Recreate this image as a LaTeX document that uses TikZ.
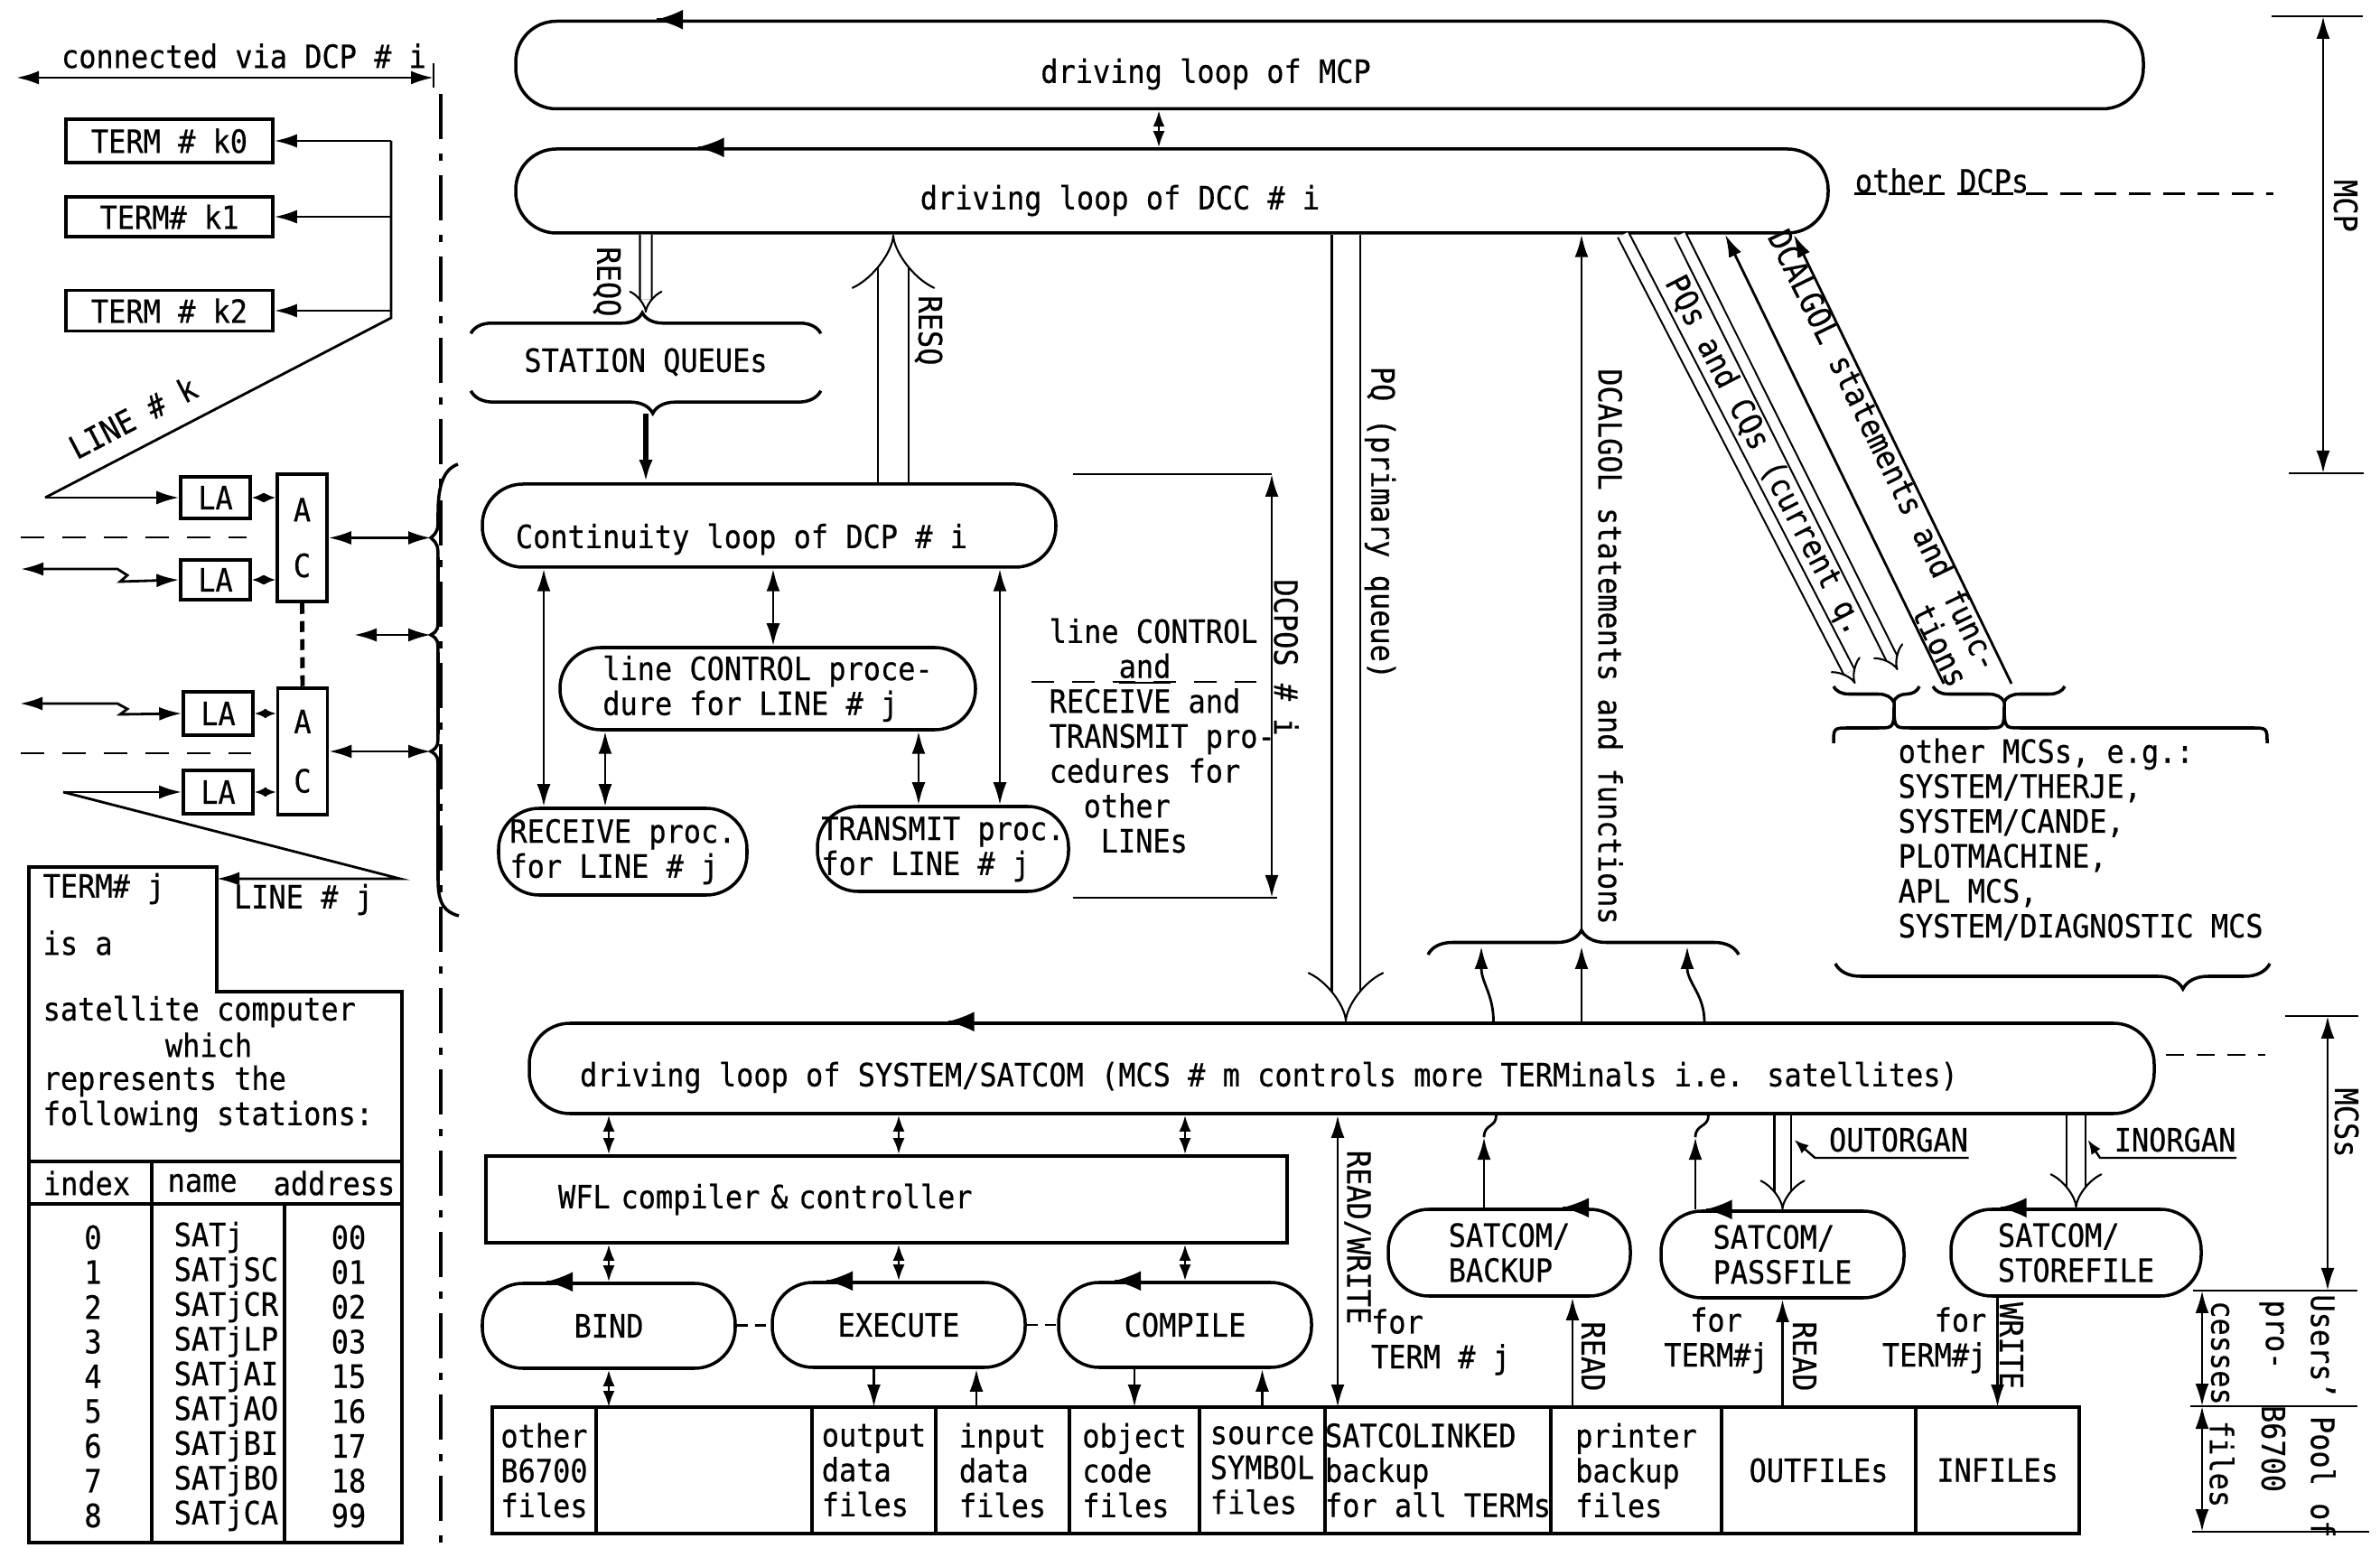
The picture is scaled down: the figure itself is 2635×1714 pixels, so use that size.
\documentclass[tikz,border=0pt]{standalone}
\usepackage{fontspec}
\setmainfont[FakeStretch=0.9, FakeBold=0.5]{DejaVu Sans Mono}
\setmonofont[FakeStretch=0.9, FakeBold=0.5]{DejaVu Sans Mono}
\usetikzlibrary{positioning, arrows.meta, calc, decorations.pathreplacing}
\tikzset{
  every node/.style={font=\fontsize{10.1}{11}\selectfont, inner sep=0pt},
  loopbox/.style={draw, line width=1pt, rounded corners=4.5mm},
  procbox/.style={loopbox, align=center, minimum width=28mm, minimum height=9.4mm},
  plainbox/.style={draw, line width=1pt, align=center},
  cell/.style={draw, line width=1pt, outer sep=0pt, minimum height=14mm, align=left},
  arr/.style={-{Latex[length=2.5mm, width=1.5mm]}, line width=0.8pt},
  darr/.style={{Latex[length=2.5mm, width=1.5mm]}-{Latex[length=2.5mm, width=1.5mm]}, line width=0.8pt},
  mdarr/.style={{Latex[length=1.8mm, width=1.3mm]}-{Latex[length=1.8mm, width=1.3mm]}, line width=0.8pt},
  sdarr/.style={{Latex[length=1.3mm, width=1.1mm]}-{Latex[length=1.3mm, width=1.1mm]}, line width=0.8pt},
  ptr/.style={-{Latex[length=1.6mm, width=1.2mm]}, line width=0.7pt},
  looptip/.style={-{Latex[length=3mm, width=2.2mm]}, line width=0.8pt},
  qarr/.style={double, line width=0.6pt, double distance=#1, -{Implies}},
  qarr/.default=1.2mm,
  vlbl/.style={rotate=-90},
  dimln/.style={line width=0.8pt},
  bracepath/.style={line width=1pt}
}

\begin{document}
\begin{tikzpicture}[x=0.1mm, y=-0.1mm]
\path[use as bounding box, fill=white] (0,0) rectangle (2635,1714);

\coordinate (cva) at (18,86);
\coordinate (cvb) at (480,86);
\draw[darr] (cva) -- (cvb);
\draw[dimln] (480,70) -- (480,97);
\node (cvtxt) at (270,62) {connected via DCP \# i};
\draw[line width=1pt, dash pattern=on 5mm off 1.6mm on 0.8mm off 1.6mm] (488,104) -- (488,1714);

\node[plainbox, minimum width=22.9mm, minimum height=4.8mm] (k0) at (187.5,156) {TERM \# k0};
\node[plainbox, minimum width=22.9mm, minimum height=4.4mm] (k1) at (187.5,240) {TERM\# k1};
\node[plainbox, minimum width=22.9mm, minimum height=4.5mm] (k2) at (187.5,344) {TERM \# k2};
\node[plainbox, minimum width=7.7mm, minimum height=4.6mm] (la1) at (238.5,551) {LA};
\node[plainbox, minimum width=7.7mm, minimum height=4.4mm] (la2) at (238.5,642) {LA};
\node[plainbox, minimum width=7.7mm, minimum height=4.8mm] (la3) at (241.5,790) {LA};
\node[plainbox, minimum width=7.7mm, minimum height=4.8mm] (la4) at (241.5,877) {LA};
\node[plainbox, minimum width=5.5mm, minimum height=14.1mm] (ac1) at (334.5,595.5) {A\\[2.3mm]C};
\node[plainbox, minimum width=5.5mm, minimum height=14mm] (ac2) at (335,832) {A\\[2.7mm]C};

\coordinate (busk) at (433,352);
\coordinate (lk) at (50,551);
\draw[dimln] (k0.east -| busk) -- (busk) -- (lk);
\foreach \k in {k0,k1,k2} \draw[arr] (\k.east -| busk) -- (\k.east);
\draw[arr] (lk) -- (la1.west);
\node[rotate=27.5] (lklbl) at (147,462) {LINE \# k};

\foreach \l/\a in {la1/ac1, la2/ac1, la3/ac2, la4/ac2} \draw[sdarr] (\l.east) -- (\l.east -| \a.west);
\draw[line width=1.4pt, dash pattern=on 1.2mm off 0.8mm] (ac1.south) -- (ac2.north);
\draw[dimln, dash pattern=on 2.6mm off 2mm] (23,595) -- (273,595);
\draw[dimln, dash pattern=on 2.6mm off 2mm] (23,834) -- (278,834);
\coordinate (l2) at (23,630);
\coordinate (l3) at (22,779);
\draw[darr] (l2) -- ++(107,0) -- ++(11,7) -- ++(-8,7) -- (la2.west);
\draw[darr] (l3) -- ++(108,0) -- ++(11,6) -- ++(-8,6) -- (la3.west);

\coordinate (lj) at (70,877);
\coordinate (ljr) at (443,973);
\coordinate (tj) at (240,973);
\draw[arr] (lj) -- (la4.west);
\draw[arr] (lj) -- (ljr) -- (tj);
\node (ljlbl) at (336,996) {LINE \# j};

\coordinate (br1) at (477,595.5);
\coordinate (br2) at (477,703);
\coordinate (br3) at (477,832);
\coordinate (bm) at (392,703);
\draw[bracepath] (507,514) .. controls (490,520) and (485,540) .. (485,568) .. controls (485,588) .. (br1) .. controls (485,603) .. (485,623) -- (485,678) .. controls (485,698) .. (br2) .. controls (485,708) .. (485,728) -- (485,807) .. controls (485,827) .. (br3) .. controls (485,837) .. (485,857) -- (485,975) .. controls (485,1000) and (492,1010) .. (508,1014);
\draw[darr] (ac1.east) -- (br1);
\draw[darr] (bm) -- (br2);
\draw[darr] (ac2.east) -- (br3);

\draw[line width=1pt] (32,960) -- (240,960) -- (240,1098) -- (445,1098) -- (445,1708) -- (32,1708) -- cycle;
\draw[line width=1pt] (32,1286) -- (445,1286) (32,1333) -- (445,1333) (168,1286) -- (168,1708) (315,1333) -- (315,1708);
\node[anchor=west] (tjtxt) at (47,984) {TERM\# j};
\node[anchor=west] (isa) at (47,1044) {is a};
\node[anchor=west] (sat1) at (47,1120) {satellite computer};
\node (sat2) at (231,1157) {which};
\node[anchor=west] (sat3) at (47,1197) {represents the};
\node[anchor=west] (sat4) at (47,1236) {following stations:};
\node (hidx) at (96,1310) {index};
\node[anchor=west] (hnm) at (185,1310) {name};
\node (had) at (370,1310) {address};
\foreach \idx/\nm/\ad [count=\r from 0] in {0/SATj/00, 1/SATjSC/01, 2/SATjCR/02, 3/SATjLP/03, 4/SATjAI/15, 5/SATjAO/16, 6/SATjBI/17, 7/SATjBO/18, 8/SATjCA/99}
{
  \node (ix\r) at (103,1370+38.5*\r) {\idx};
  \node[anchor=west] (nm\r) at (192,1370+38.5*\r) {\nm};
  \node (ad\r) at (386,1370+38.5*\r) {\ad};
}

\node[loopbox, minimum width=180.2mm, minimum height=9.7mm] (mcp) at (1472,72) {};
\node (mcptxt) at (1335,82) {driving loop of MCP};
\node[loopbox, minimum width=145.3mm, minimum height=9.3mm] (dcc) at (1297.5,211.5) {};
\node (dcctxt) at (1240,222) {driving loop of DCC \# i};
\node[minimum width=38.6mm, minimum height=6.2mm] (sq) at (715,401) {STATION QUEUEs};
\node[loopbox, minimum width=63.5mm, minimum height=9.2mm] (cont) at (851.5,582) {};
\node (conttxt) at (821,597) {Continuity loop of DCP \# i};
\node[loopbox, minimum width=46mm, minimum height=9.1mm, align=left] (lctl) at (850,762.5) {line CONTROL proce-\\dure for LINE \# j};
\node[procbox, minimum width=27.5mm, minimum height=9.6mm, align=left] (recv) at (689.5,943) {RECEIVE proc.\\for LINE \# j};
\node[procbox, minimum width=27.8mm, minimum height=9.4mm, align=left] (xmit) at (1044,940) {TRANSMIT proc.\\for LINE \# j};
\node[loopbox, minimum width=179.9mm, minimum height=10mm] (satcom) at (1485.5,1183) {};
\node (sattxt) at (1405,1193) {driving loop of SYSTEM/SATCOM (MCS \# m controls more TERMinals i.e. satellites)};
\node[draw, line width=1pt, minimum height=9.6mm, text width=72.7mm, inner xsep=8mm, align=left] (wfl) at (981.5,1328) {WFL compiler \& controller};
\node[procbox] (bind) at (674,1468) {BIND};
\node[procbox] (exec) at (995,1467) {EXECUTE};
\node[procbox] (comp) at (1312,1467) {COMPILE};
\node[procbox, minimum width=26.8mm, minimum height=9.6mm, align=left] (backup) at (1671,1387) {SATCOM/\\BACKUP};
\node[procbox, minimum width=26.9mm, minimum height=9.6mm, align=left] (passfile) at (1973.5,1389) {SATCOM/\\PASSFILE};
\node[procbox, minimum width=27.7mm, minimum height=9.6mm, align=left] (storefile) at (2298.5,1387) {SATCOM/\\STOREFILE};

\node[cell, minimum width=11.5mm, anchor=north west] (f1) at (545,1558) {other\\B6700\\files};
\node[cell, minimum width=23.9mm, right=0pt of f1] (f2) {};
\node[cell, minimum width=13.7mm, right=0pt of f2] (f3) {output\\data\\files};
\node[cell, minimum width=14.8mm, right=0pt of f3] (f4) {input\\data\\files};
\node[cell, minimum width=14.4mm, right=0pt of f4] (f5) {object\\code\\files};
\node[cell, minimum width=13.9mm, right=0pt of f5] (f6) {source\\SYMBOL\\files};
\node[cell, minimum width=24.8mm, right=0pt of f6] (f7) {SATCOLINKED\\backup\\for all TERMs};
\node[cell, minimum width=18.9mm, right=0pt of f7] (f8) {printer\\backup\\files};
\node[cell, minimum width=21.5mm, right=0pt of f8] (f9) {OUTFILEs};
\node[cell, minimum width=18.1mm, right=0pt of f9] (f10) {INFILEs};

\draw[looptip] ([xshift=-74.5mm]mcp.north) -- ++(-1,0);
\draw[looptip] ([xshift=-52.5mm]dcc.north) -- ++(-1,0);
\draw[looptip] ([xshift=-43.6mm]satcom.north) -- ++(-1,0);
\draw[looptip] ([xshift=-6.9mm]bind.north) -- ++(-1,0);
\draw[looptip] ([xshift=-8mm]exec.north) -- ++(-1,0);
\draw[looptip] ([xshift=-7.8mm]comp.north) -- ++(-1,0);
\draw[looptip] ([xshift=5.9mm]backup.north) -- ++(-1,0);
\draw[looptip] ([xshift=-8.5mm]passfile.north) -- ++(-1,0);
\draw[looptip] ([xshift=-8.4mm]storefile.north) -- ++(-1,0);

\draw[mdarr] ([xshift=-18.9mm]mcp.south) -- ([xshift=-18.9mm]mcp.south |- dcc.north);
\node (odcp) at (2150,200) {other DCPs};
\draw[dimln, dash pattern=on 2.4mm off 1.4mm] (odcp.south west) -- ++(464,0);

\coordinate (mcpt) at (2572,18);
\coordinate (mcpb) at (2572,524);
\draw[dimln] (2515,18) -- (2616,18);
\draw[dimln] (2534,524) -- (2617,524);
\draw[darr] (mcpt) -- (mcpb);
\node[vlbl] (mcplbl) at (2597,228) {MCP};

\draw[bracepath, decorate, decoration={brace, amplitude=2.3mm, aspect=0.49}] (sq.north west) -- (sq.north east);
\draw[bracepath, decorate, decoration={brace, mirror, amplitude=2.5mm, aspect=0.52}] (sq.south west) -- (sq.south east);
\draw[qarr=1.1mm] ([xshift=-58.25mm]dcc.south) -- ([yshift=2.3mm]sq.north);
\node[vlbl] (reqq) at (672,312) {REQQ};
\draw[arr, line width=1.6pt] ([yshift=-2.5mm]sq.south) -- (sq.south |- cont.north);
\draw[qarr=3.2mm] ([xshift=13.75mm]cont.north) -- ([xshift=13.75mm]cont.north |- dcc.south);
\node[vlbl] (resq) at (1028,366) {RESQ};

\draw[darr] ([xshift=-8.75mm]recv.north) -- ([xshift=-8.75mm]recv.north |- cont.south);
\draw[darr] ([xshift=0.6mm]lctl.north) -- ([xshift=0.6mm]lctl.north |- cont.south);
\draw[darr] ([xshift=-1.95mm]recv.north) -- ([xshift=-1.95mm]recv.north |- lctl.south);
\draw[darr] ([xshift=-2.7mm]xmit.north) -- ([xshift=-2.7mm]xmit.north |- lctl.south);
\draw[darr] ([xshift=6.3mm]xmit.north) -- ([xshift=6.3mm]xmit.north |- cont.south);

\node[anchor=north west, align=left] (otherln) at (1161,684) {line CONTROL\\\hspace*{7.7mm}\underline{and}\\RECEIVE and\\TRANSMIT pro-\\cedures for\\\hspace*{3.8mm}other\\\hspace*{5.7mm}LINEs};
\draw[dimln, dash pattern=on 2.5mm off 2mm] (1142,755) -- (1391,755);
\coordinate (dpt) at (1408,525);
\coordinate (dpb) at (1408,994);
\draw[dimln] (1188,525) -- (dpt);
\draw[dimln] (1188,994) -- (1414,994);
\draw[darr] (dpt) -- (dpb);
\node[vlbl] (dcpos) at (1424,728) {DCPOS \# i};

\draw[qarr=2.9mm] ([xshift=19.25mm]dcc.south) -- ([xshift=19.25mm]dcc.south |- satcom.north);
\node[vlbl] (pqlbl) at (1528,579) {PQ (primary queue)};

\coordinate (dcusp) at (1751,1030);
\draw[bracepath, decorate, decoration={brace, amplitude=2.7mm, aspect=0.494}] (1581,1057) -- (1925,1057);
\draw[arr] (dcusp) -- (dcusp |- dcc.south);
\node[vlbl] (dcalv) at (1783,716) {DCALGOL statements and functions};
\coordinate (dbr1) at (1640,1048);
\coordinate (dbr2) at (1751,1048);
\coordinate (dbr3) at (1868,1048);
\draw[arr] ([xshift=16.8mm]satcom.north) .. controls +(0,-30) and +(0,40) .. (dbr1);
\draw[arr] (dbr2 |- satcom.north) -- (dbr2);
\draw[arr] ([xshift=40.15mm]satcom.north) .. controls +(0,-30) and +(0,40) .. (dbr3);

\coordinate (pqa) at (2054,757);
\coordinate (pqb) at (2101,742);
\coordinate (dca) at (2152,757);
\coordinate (dcb) at (2227,757);
\draw[qarr=1.1mm] ([xshift=49.95mm]dcc.south) -- (pqa);
\draw[qarr=1.1mm] ([xshift=56.25mm]dcc.south) -- (pqb);
\draw[arr] (dca) -- ([xshift=61.25mm]dcc.south);
\draw[arr] (dcb) -- ([xshift=68.85mm]dcc.south);
\node[rotate=-62.7] (pqdiag) at (1953,505) {PQs and CQs (current q.};
\node[rotate=-64, align=right] (dcdiag) at (2069,507) {DCALGOL statements and func-\\tions};

\draw[bracepath, decorate, decoration={brace, mirror, amplitude=1.7mm, aspect=0.7}] (2030,760) -- (2125,760);
\draw[bracepath, decorate, decoration={brace, mirror, amplitude=1.7mm, aspect=0.54}] (2140,760) -- (2286,760);
\draw[bracepath] (2030,823) .. controls (2030,806) .. (2048,806) -- (2080,806) .. controls (2097,806) .. (2097,777) .. controls (2097,806) .. (2114,806) -- (2202,806) .. controls (2219,806) .. (2219,777) .. controls (2219,806) .. (2236,806) -- (2492,806) .. controls (2510,806) .. (2510,823);
\node[anchor=north west, align=left] (mcslist) at (2101,817) {other MCSs, e.g.:\\SYSTEM/THERJE,\\SYSTEM/CANDE,\\PLOTMACHINE,\\APL MCS,\\SYSTEM/DIAGNOSTIC MCS};
\draw[bracepath, decorate, decoration={brace, mirror, amplitude=2.8mm, aspect=0.8}] (2032,1067) -- (2513,1067);

\draw[dimln, dash pattern=on 2mm off 1.4mm] (2398,1168) -- (2508,1168);
\foreach \p in {bind, exec, comp} {
  \draw[mdarr] (\p.north |- satcom.south) -- (\p.north |- wfl.north);
  \draw[mdarr] (\p.north |- wfl.south) -- (\p.north);
}
\draw[dimln, dash pattern=on 1.2mm off 0.8mm] (bind) -- (exec);
\draw[dimln, dash pattern=on 1.2mm off 0.8mm] (exec) -- (comp);

\draw[mdarr] (bind.south) -- (bind.south |- f2.north);
\draw[arr] (exec.south -| f3.north) -- (f3.north);
\draw[arr] ([xshift=-2.9mm]f4.north) -- ([xshift=-2.9mm]f4.north |- exec.south);
\draw[arr] (comp.south -| f5.north) -- (f5.north);
\draw[arr] (f6.north) -- (f6.north |- comp.south);
\draw[darr] ([xshift=-11.1mm]f7.north) -- ([xshift=-11.1mm]f7.north |- satcom.south);
\node[vlbl] (rwlbl) at (1503,1370) {READ/WRITE};

\coordinate (bkm) at ([xshift=-2.8mm, yshift=7.8mm]backup.north);
\draw[arr] ([xshift=-2.8mm]backup.north) -- (bkm);
\draw[dimln] (bkm) .. controls +(0,-15) and +(0,14) .. ([xshift=17.1mm]satcom.south);
\coordinate (pfm) at ([xshift=-9.65mm, yshift=8mm]passfile.north);
\draw[arr] ([xshift=-9.65mm]passfile.north) -- (pfm);
\draw[dimln] (pfm) .. controls +(0,-15) and +(0,14) .. ([xshift=40.6mm]satcom.south);

\draw[qarr=1.6mm] (passfile.north |- satcom.south) -- (passfile.north);
\draw[qarr=1.9mm] (storefile.north |- satcom.south) -- (storefile.north);
\node (outlbl) at (2102,1262) {OUTORGAN};
\node (inlbl) at (2408,1262) {INORGAN};
\draw[ptr] ([yshift=-2mm]outlbl.east) -- ([yshift=-2mm]outlbl.west) -- ++(-15,0) -- ([xshift=1.3mm]passfile.north |- outlbl.center);
\draw[ptr] ([yshift=-2mm]inlbl.east) -- ([yshift=-2mm]inlbl.west) -- ++(-15,0) -- ([xshift=1.3mm]storefile.north |- inlbl.center);

\draw[arr] ([xshift=7mm]backup.south |- f8.north) -- ([xshift=7mm]backup.south);
\node[vlbl] (rd1) at (1764,1502) {READ};
\draw[arr] (passfile.south |- f9.north) -- (passfile.south);
\node[vlbl] (rd2) at (1998,1502) {READ};
\draw[arr] (storefile.south -| f10.north) -- (f10.north);
\node[vlbl] (wr) at (2227,1490) {WRITE};
\node[align=left] (for1) at (1595,1486) {for\\TERM \# j};
\node[align=center] (for2) at (1900,1484) {for\\TERM\#j};
\node[align=right, anchor=east] (for3) at (2200,1484) {for\\TERM\#j};

\coordinate (msa) at (2577,1125);
\coordinate (msb) at (2577,1429);
\coordinate (upa) at (2438,1429);
\coordinate (upb) at (2438,1557);
\coordinate (upc) at (2438,1696);
\draw[dimln] (2530,1125) -- (2611,1125);
\draw[dimln] (2428,1429) -- (2610,1429);
\draw[dimln] (2425,1557) -- (2610,1557);
\draw[dimln] (2427,1696) -- (2623,1696);
\draw[darr] (msa) -- (msb);
\draw[darr] (upa) -- (upb);
\draw[darr] (upb) -- (upc);
\node[vlbl] (mcss) at (2598,1243) {MCSs};
\node[vlbl] (pool1) at (2572,1568) {Users' Pool of};
\node[vlbl] (pool2) at (2515,1478) {pro-};
\node[vlbl] (pool3) at (2517,1604) {B6700};
\node[vlbl] (pool4) at (2458,1498) {cesses};
\node[vlbl] (pool5) at (2460,1621) {files};
\end{tikzpicture}
\end{document}
